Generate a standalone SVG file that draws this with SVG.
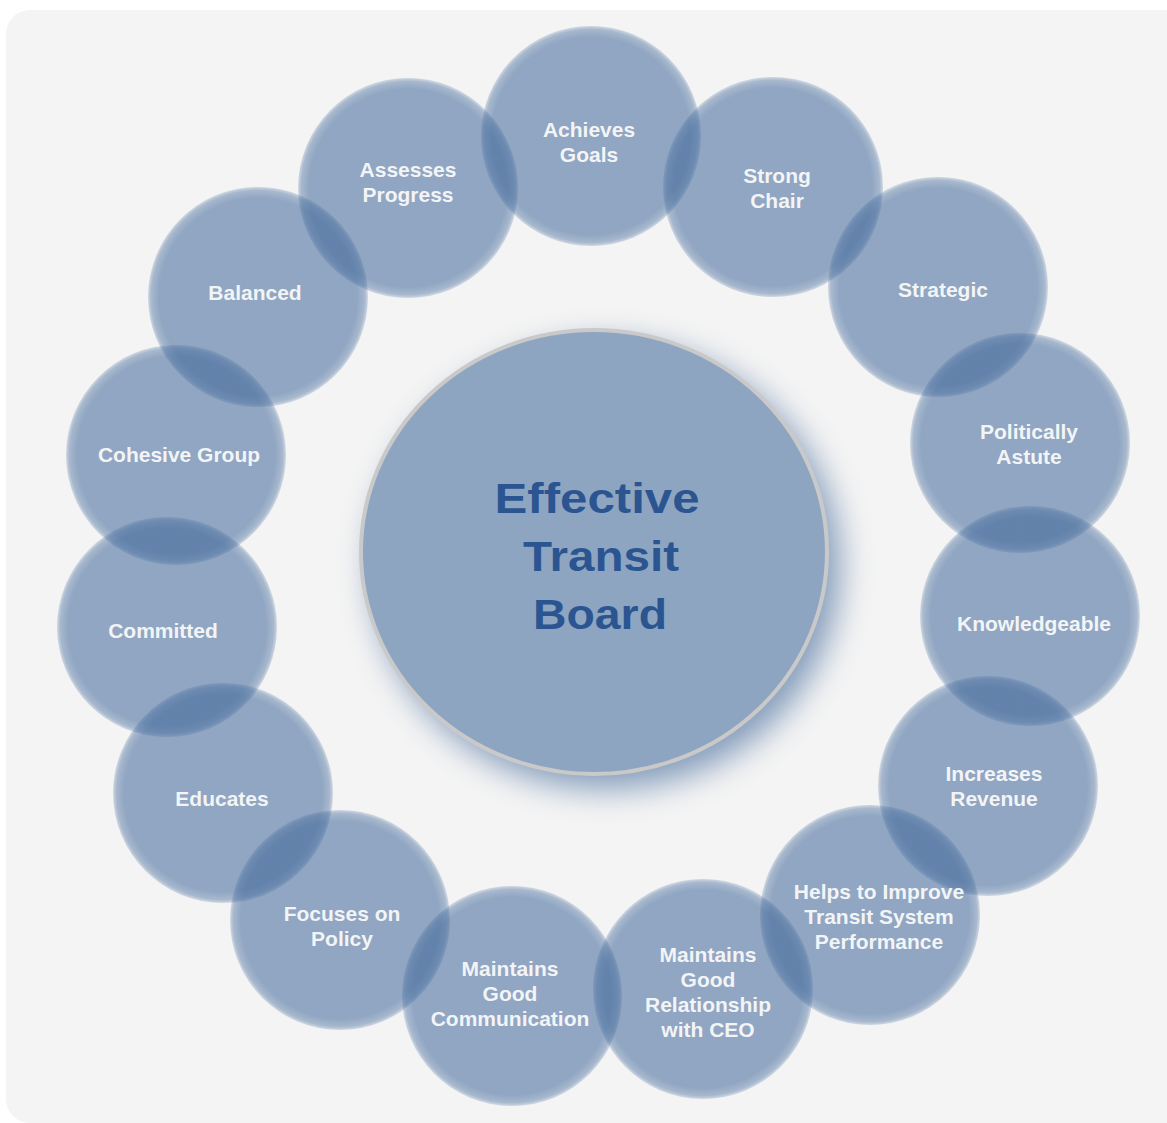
<svg xmlns="http://www.w3.org/2000/svg" width="1167" height="1123" viewBox="0 0 1167 1123">
<defs>
<radialGradient id="bub" cx="0.5" cy="0.5" r="0.5">
<stop offset="0" stop-color="#3e6699" stop-opacity="0.55"/>
<stop offset="0.9" stop-color="#3e6699" stop-opacity="0.55"/>
<stop offset="0.97" stop-color="#3e6699" stop-opacity="0.42"/>
<stop offset="1" stop-color="#3e6699" stop-opacity="0.2"/>
</radialGradient>
<filter id="glow" x="-30%" y="-30%" width="160%" height="160%">
<feGaussianBlur stdDeviation="16"/>
</filter>
</defs>
<style>
.bub{fill:url(#bub);}
.lbl{font-family:"Liberation Sans",Arial,sans-serif;font-weight:bold;font-size:21px;fill:#f3f4f6;text-anchor:middle;}
.ctr{font-family:"Liberation Sans",Arial,sans-serif;font-weight:bold;font-size:42px;fill:#2b5591;text-anchor:middle;}
</style>
<rect x="0" y="0" width="1167" height="1123" fill="#ffffff"/>
<rect x="6" y="10" width="1185" height="1113" rx="24" fill="#f4f4f4"/>
<g id="connectors"></g>
<g id="center">
<ellipse cx="606" cy="566" rx="234" ry="223" fill="#5f7fa8" opacity="0.75" filter="url(#glow)"/>
<ellipse cx="594" cy="552" rx="233" ry="222" fill="#8ea5c1" stroke="#c9c9c9" stroke-width="4"/>
<text class="ctr" x="597" y="513" textLength="205" lengthAdjust="spacingAndGlyphs">Effective</text>
<text class="ctr" x="601" y="571" textLength="156" lengthAdjust="spacingAndGlyphs">Transit</text>
<text class="ctr" x="600" y="629" textLength="134" lengthAdjust="spacingAndGlyphs">Board</text>
</g>
<g id="achieves-goals"><circle class="bub" cx="591" cy="136" r="110"/><text class="lbl" x="589" y="137">Achieves</text><text class="lbl" x="589" y="162">Goals</text></g>
<g id="strong-chair"><circle class="bub" cx="773" cy="187" r="110"/><text class="lbl" x="777" y="183">Strong</text><text class="lbl" x="777" y="208">Chair</text></g>
<g id="strategic"><circle class="bub" cx="938" cy="287" r="110"/><text class="lbl" x="943" y="297">Strategic</text></g>
<g id="politically-astute"><circle class="bub" cx="1020" cy="443" r="110"/><text class="lbl" x="1029" y="439">Politically</text><text class="lbl" x="1029" y="464">Astute</text></g>
<g id="knowledgeable"><circle class="bub" cx="1030" cy="616" r="110"/><text class="lbl" x="1034" y="631">Knowledgeable</text></g>
<g id="increases-revenue"><circle class="bub" cx="988" cy="786" r="110"/><text class="lbl" x="994" y="781">Increases</text><text class="lbl" x="994" y="806">Revenue</text></g>
<g id="helps-improve"><circle class="bub" cx="870" cy="915" r="110"/><text class="lbl" x="879" y="899">Helps to Improve</text><text class="lbl" x="879" y="924">Transit System</text><text class="lbl" x="879" y="949">Performance</text></g>
<g id="relationship-ceo"><circle class="bub" cx="703" cy="989" r="110"/><text class="lbl" x="708" y="962">Maintains</text><text class="lbl" x="708" y="987">Good</text><text class="lbl" x="708" y="1012">Relationship</text><text class="lbl" x="708" y="1037">with CEO</text></g>
<g id="good-communication"><circle class="bub" cx="512" cy="996" r="110"/><text class="lbl" x="510" y="976">Maintains</text><text class="lbl" x="510" y="1001">Good</text><text class="lbl" x="510" y="1026">Communication</text></g>
<g id="focuses-policy"><circle class="bub" cx="340" cy="920" r="110"/><text class="lbl" x="342" y="921">Focuses on</text><text class="lbl" x="342" y="946">Policy</text></g>
<g id="educates"><circle class="bub" cx="223" cy="793" r="110"/><text class="lbl" x="222" y="806">Educates</text></g>
<g id="committed"><circle class="bub" cx="167" cy="627" r="110"/><text class="lbl" x="163" y="638">Committed</text></g>
<g id="cohesive-group"><circle class="bub" cx="176" cy="455" r="110"/><text class="lbl" x="179" y="462">Cohesive Group</text></g>
<g id="balanced"><circle class="bub" cx="258" cy="297" r="110"/><text class="lbl" x="255" y="300">Balanced</text></g>
<g id="assesses-progress"><circle class="bub" cx="408" cy="188" r="110"/><text class="lbl" x="408" y="177">Assesses</text><text class="lbl" x="408" y="202">Progress</text></g>
</svg>
